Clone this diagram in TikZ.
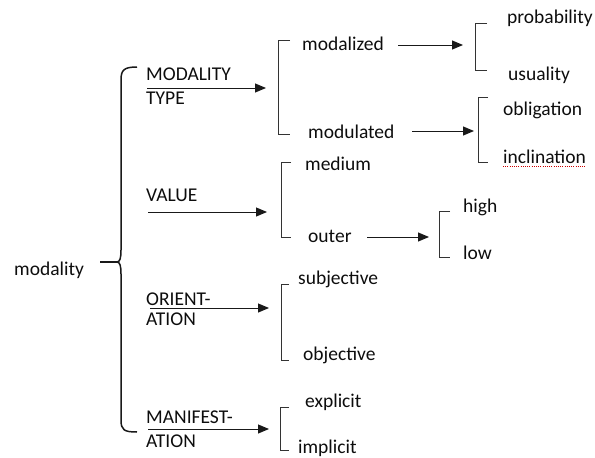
\documentclass[tikz,border=0pt]{standalone}
\usepackage{fontspec}
\setmainfont{Carlito}
\usetikzlibrary{arrows.meta}
\begin{document}
\begin{tikzpicture}[x=1pt,y=-1pt,
  lbl/.style={anchor=west,inner sep=0pt,text height=13.5pt,text depth=4pt,font=\fontsize{19.5}{22}\selectfont,text=black!95},
  arr/.style={-{Triangle[length=11pt,width=9pt]},line width=1pt,black!90},
  brk/.style={line width=0.9pt,black!80},
  brace/.style={line width=1.5pt,black!90}]
\useasboundingbox (0,0) rectangle (595,458);
% main label and brace
\node[lbl] (modality) at (14,271) {modality};
\coordinate (bt) at (137,67);
\coordinate (bc) at (117,262);
\coordinate (bb) at (137,432);
\coordinate (bl) at (100,262);
\draw[brace] (bt) .. controls (124,67) and (121,70) .. (121,80) -- (121,250)
  .. controls (121,258) and (120,262) .. (bc)
  .. controls (120,262) and (121,266) .. (121,274) -- (121,420)
  .. controls (121,430) and (124,432) .. (bb);
\draw[brace] (bl) -- (bc);
% first-level labels
\node[lbl] (mt1) at (146,76) {MODALITY};
\node[lbl] (mt2) at (146,100) {TYPE};
\node[lbl] (val) at (146,197) {VALUE};
\node[lbl] (or1) at (146,301) {ORIENT-};
\node[lbl] (or2) at (146,321) {ATION};
\node[lbl] (ma1) at (146,419) {MANIFEST-};
\node[lbl] (ma2) at (146,443) {ATION};
% bracket targets
\coordinate (a1s) at (147,88);  \coordinate (a1e) at (266,88);
\coordinate (a2s) at (148,212); \coordinate (a2e) at (267,212);
\coordinate (a3s) at (150,308); \coordinate (a3e) at (269,308);
\coordinate (a4s) at (148,429); \coordinate (a4e) at (269,429);
\draw[arr] (a1s) -- (a1e);
\draw[arr] (a2s) -- (a2e);
\draw[arr] (a3s) -- (a3e);
\draw[arr] (a4s) -- (a4e);
% second-level brackets
\draw[brk] (290,40) -- (278,40) -- (278,134) -- (290,134);
\draw[brk] (291,162) -- (281,162) -- (281,237) -- (291,237);
\draw[brk] (289,284) -- (281,284) -- (281,360) -- (289,360);
\draw[brk] (289,407) -- (280,407) -- (280,450) -- (289,450);
% second-level labels
\node[lbl] (mzd) at (302,46) {modalized};
\node[lbl] (mld) at (308,134) {modulated};
\node[lbl] (med) at (305,166) {medium};
\node[lbl] (out) at (308,238) {outer};
\node[lbl] (sub) at (298,280) {subjective};
\node[lbl] (obj) at (303,356) {objective};
\node[lbl] (exp) at (305,403) {explicit};
\node[lbl] (imp) at (298,449) {implicit};
% third-level arrows
\coordinate (b1s) at (398,45);  \coordinate (b1e) at (463,45);
\coordinate (b2s) at (412,131); \coordinate (b2e) at (474,131);
\coordinate (b3s) at (367,237); \coordinate (b3e) at (429,237);
\draw[arr] (b1s) -- (b1e);
\draw[arr] (b2s) -- (b2e);
\draw[arr] (b3s) -- (b3e);
% third-level brackets
\draw[brk] (487,23) -- (475,23) -- (475,70) -- (487,70);
\draw[brk] (488,97) -- (478,97) -- (478,162) -- (488,162);
\draw[brk] (450,211) -- (439,211) -- (439,257) -- (450,257);
% third-level labels
\node[lbl] (prob) at (507,19) {probability};
\node[lbl] (usu) at (508,76) {usuality};
\node[lbl] (obl) at (503,111) {obligation};
\node[lbl] (inc) at (503,159) {inclination};
\node[lbl] (high) at (463,208) {high};
\node[lbl] (low) at (463,255) {low};
\draw[red!80!black,line width=0.7pt,dash pattern=on 1pt off 1.2pt] ([yshift=1.5pt]inc.south west) -- ([yshift=1.5pt]inc.south east);
\end{tikzpicture}
\end{document}
